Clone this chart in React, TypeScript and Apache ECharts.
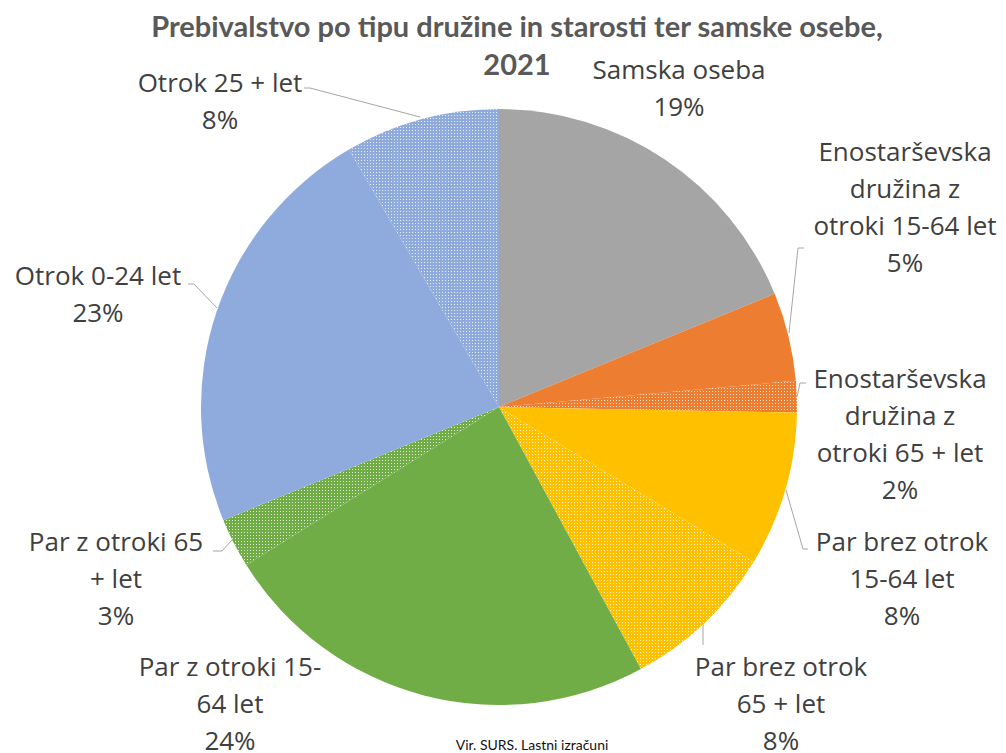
import React, { useEffect, useRef } from "react";
import * as echarts from "echarts";

const categories = [
  "Samska oseba",
  "Enostarševska družina z otroki 15-64 let",
  "Enostarševska družina z otroki 65 + let",
  "Par brez otrok 15-64 let",
  "Par brez otrok 65 + let",
  "Par z otroki 15-64 let",
  "Par z otroki 65 + let",
  "Otrok 0-24 let",
  "Otrok 25 + let",
];
const values = [18.8, 4.8, 1.7, 8.4, 8.4, 24.0, 2.7, 22.8, 8.4];
const wrappedLabels = [
  "Samska oseba",
  "Enostarševska\ndružina z\notroki 15-64 let",
  "Enostarševska\ndružina z\notroki 65 + let",
  "Par brez otrok\n15-64 let",
  "Par brez otrok\n65 + let",
  "Par z otroki 15-\n64 let",
  "Par z otroki 65\n+ let",
  "Otrok 0-24 let",
  "Otrok 25 + let",
];
const baseColors = ["#A5A5A5", "#ED7D31", "#ED7D31", "#FFC000", "#FFC000", "#70AD47", "#70AD47", "#8FAADC", "#8FAADC"];
const patterned = [false, false, true, false, true, false, true, false, true];
const titleText = "Prebivalstvo po tipu družine in starosti ter samske osebe,\n2021";
const sourceText = "Vir. SURS. Lastni izračuni";

function makePattern(color: string) {
  const c = document.createElement("canvas");
  c.width = 3;
  c.height = 3;
  const ctx = c.getContext("2d")!;
  ctx.fillStyle = color;
  ctx.fillRect(0, 0, 3, 3);
  ctx.fillStyle = "rgba(255,255,255,0.8)";
  ctx.fillRect(1, 1, 1, 1);
  return { image: c, repeat: "repeat", imageWidth: 3, imageHeight: 3 };
}

// label text block centres (layout only), px
const labelPos: [number, number][] = [
  [679, 87],
  [905, 206],
  [900, 433],
  [902, 578],
  [781, 703],
  [230, 703],
  [116, 578],
  [98, 293],
  [220, 100],
];
// leader-line routes (layout only), px
const guidePoints: (number[][] | null)[] = [
  null,
  [[789, 333], [798, 248], [804, 248]],
  [[797, 397], [800, 383], [806, 383]],
  [[786, 490], [803, 549], [808, 549]],
  [[703, 623], [703, 633], [703, 645]],
  null,
  [[232, 540], [222, 551], [213, 551]],
  [[217, 308], [194, 284], [188, 284]],
  [[420, 117], [310, 88], [304, 88]],
];

export default function App() {
  const ref = useRef<HTMLDivElement>(null);
  useEffect(() => {
    if (!ref.current) return;
    const chart = echarts.init(ref.current, undefined, { renderer: "svg" });
    const data = categories.map((name, i) => ({
      name,
      value: values[i],
      itemStyle: { color: patterned[i] ? (makePattern(baseColors[i]) as any) : baseColors[i] },
      labelLine: { show: guidePoints[i] !== null },
    }));
    chart.setOption({
      animation: false,
      title: {
        text: titleText,
        left: 512,
        top: 1,
        textAlign: "center",
        textStyle: {
          fontFamily: "Lato",
          fontWeight: "bold",
          fontSize: 29,
          lineHeight: 38,
          color: "#595959",
        },
      },
      graphic: [
        {
          type: "text",
          x: 532,
          y: 744,
          style: {
            text: sourceText,
            fontFamily: "Lato",
            fontSize: 14,
            fill: "#111111",
            align: "center",
            verticalAlign: "middle",
          },
        },
      ],
      series: [
        {
          type: "pie",
          center: [499, 407],
          radius: 298,
          startAngle: 90,
          clockwise: true,
          avoidLabelOverlap: false,
          itemStyle: { borderWidth: 0 },
          emphasis: { disabled: true },
          data,
          label: {
            show: true,
            position: "outside",
            fontFamily: "Open Sans",
            fontSize: 26,
            lineHeight: 37,
            color: "#404040",
            formatter: (p: any) => `${wrappedLabels[p.dataIndex]}\n${Math.round(p.percent)}%`,
          },
          labelLine: {
            show: true,
            length: 10,
            length2: 6,
            lineStyle: { color: "#A6A6A6", width: 1 },
          },
          labelLayout: (params: any) => {
            const i = params.dataIndex;
            const pos = labelPos[i];
            const out: any = { x: pos[0], y: pos[1], align: "center", verticalAlign: "middle" };
            if (guidePoints[i]) out.labelLinePoints = guidePoints[i];
            return out;
          },
        },
      ],
    });
    return () => chart.dispose();
  }, []);
  return (
    <div
      ref={ref}
      style={{ position: "absolute", left: 0, top: 0, width: 1006, height: 753, background: "#fff" }}
    />
  );
}
